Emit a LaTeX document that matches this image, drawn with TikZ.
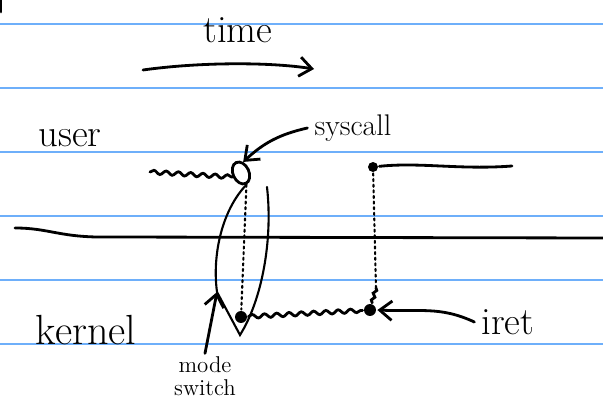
\documentclass[tikz,border=0pt]{standalone}
\usetikzlibrary{arrows.meta,decorations.pathmorphing,shapes.geometric}
\definecolor{hoja}{RGB}{110,175,250}
\begin{document}
\begin{tikzpicture}[x=0.02cm, y=-0.02cm, line width=1.6pt, line cap=round,
        >={Straight Barb[length=7pt,width=11pt]},
        etiqueta/.style={font=\fontsize{22}{26}\selectfont},
        punto/.style={circle, fill, inner sep=0pt, minimum size=0.24cm},
        onda/.style={decorate, decoration={snake, amplitude=1.1pt, segment length=7pt}}]
        \useasboundingbox (0,0) rectangle (603,399);

        % Renglones de la hoja
        \foreach \y in {24,88,...,344}
            \draw[hoja, line width=1.1pt] (0,\y) -- (603,\y);

        % Trazo suelto
        \coordinate (t0) at (1,0);
        \coordinate (t1) at (1,12);
        \draw (t0) -- (t1);

        % Eje del tiempo
        \node[etiqueta] (time) at (238,30) {time};
        \coordinate (ta) at (143,70);
        \coordinate (tb) at (314,69);
        \draw[->] (ta) .. controls (200,62) and (270,62) .. (tb);

        % Usuario y nucleo
        \node[etiqueta] (user) at (70,138) {user};
        \node[etiqueta, font=\fontsize{24}{28}\selectfont] (kernel) at (86,330) {kernel};
        \coordinate (b0) at (15,228);
        \coordinate (b1) at (603,238);
        \draw (b0) .. controls (50,228) and (60,238) .. (110,237) -- (b1);

        % Llamada al sistema
        \coordinate (u0) at (150,172);
        \node[draw, ellipse, inner sep=0pt, minimum width=0.32cm, minimum height=0.46cm, rotate=25] (sc) at (241,173) {};
        \draw[onda] (u0) -- (sc.west);
        \node[font=\fontsize{17}{20}\selectfont] (syscall) at (353,128) {syscall};
        \draw[->] (syscall.west) to[bend right=15] (sc.north east);

        % Vuelta al usuario
        \node[punto, minimum size=0.2cm] (ur) at (373,167) {};
        \coordinate (u1) at (512,166);
        \draw (ur) .. controls (420,162) and (460,170) .. (u1);

        % Trabajo en el nucleo
        \node[punto] (k1) at (241,317) {};
        \node[punto] (k2) at (370,310) {};
        \draw[onda] (k1) -- (k2);
        \draw[dotted, line width=1.2pt] (sc.south) -- (k1);
        \coordinate (r0) at (376,288);
        \draw[dotted, line width=1.2pt] (ur) -- (r0);
        \draw[onda, decoration={amplitude=0.8pt, segment length=4pt}] (r0) -- (k2);

        % Cambio de modo
        \coordinate (m0) at (267,187);
        \coordinate (m1) at (240,335);
        \coordinate (mtip) at (217,292);
        \draw[line width=1.2pt] (m0) .. controls (273,240) and (262,300) .. (m1)
            -- (mtip) .. controls (212,255) and (222,210) .. (sc.south);
        \node[font=\fontsize{13}{13}\selectfont, align=center, inner sep=1pt] (mode) at (205,376) {mode\\switch};
        \draw[->] (mode.north) -- (mtip);

        % Retorno
        \node[etiqueta] (iret) at (508,322) {iret};
        \draw[->] (iret.west) .. controls (440,306) and (420,312) .. (k2.east);
    \end{tikzpicture}
\end{document}
